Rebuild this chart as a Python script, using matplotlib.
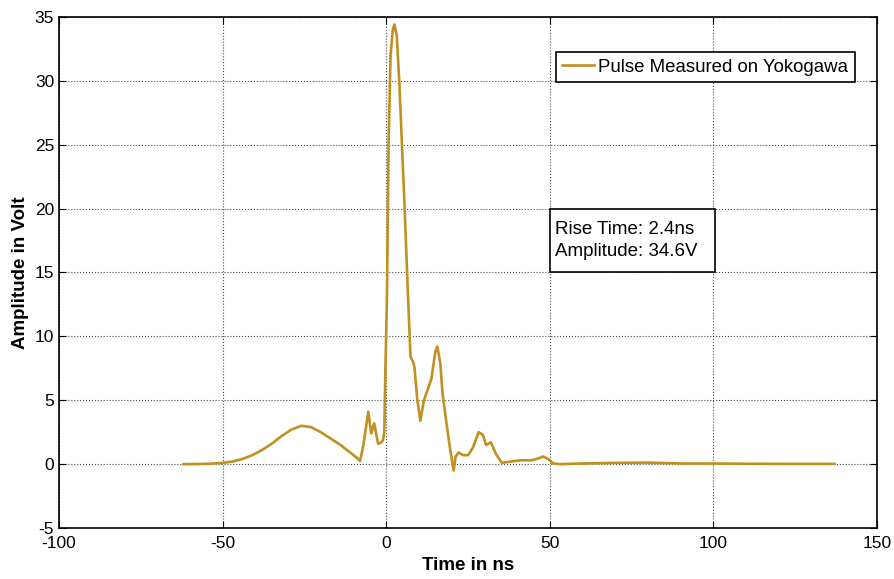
import matplotlib
matplotlib.use("Agg")
import matplotlib.pyplot as plt
from matplotlib.patches import Rectangle

plt.rcParams['font.family'] = ['Liberation Sans', 'DejaVu Sans']
plt.rcParams['axes.unicode_minus'] = False

# pulse (time in ns, amplitude in V)
t_ns = [-62, -58, -54, -50, -47, -44, -41, -38, -35, -32, -29, -26, -23,
        -20, -17, -14, -11, -9, -8,
        -7, -5.5, -4.6, -3.7, -2.5, -1.5, -1, -0.6, -0.3, 0.2, 0.7, 1.3,
        2.0, 2.5, 3.2, 4.0, 5.5, 6.7, 7.4, 8.2, 8.6, 9.5, 10.4, 11.5,
        12.9, 13.8, 15.0, 15.6, 16.5, 17.2, 18.4, 19.5, 20.6, 21.2, 22.1,
        23.5, 25.0, 26.5, 28.2, 29.5, 30.5, 32.0, 33.5, 35.3, 38, 41,
        44.5, 46.5, 48, 49.5, 51, 53, 60, 70, 80, 90, 100, 110, 120, 130, 137]
volts = [0.0, 0.01, 0.03, 0.1, 0.2, 0.4, 0.7, 1.1, 1.6, 2.2, 2.7, 3.0, 2.9,
         2.5, 2.0, 1.5, 0.9, 0.5, 0.25,
         1.5, 4.1, 2.4, 3.2, 1.6, 1.7, 1.9, 2.5, 7.0, 13.0, 25.0, 32.0,
         34.0, 34.4, 33.5, 29.8, 20.7, 12.8, 8.4, 8.0, 7.6, 5.0, 3.4, 5.0,
         6.0, 6.7, 8.8, 9.2, 7.9, 5.5, 3.2, 1.2, -0.5, 0.6, 0.9,
         0.7, 0.7, 1.3, 2.5, 2.3, 1.5, 1.7, 0.8, 0.1, 0.2, 0.3,
         0.3, 0.45, 0.6, 0.4, 0.05, 0.0, 0.05, 0.1, 0.12, 0.05, 0.05, 0.03, 0.02, 0.02, 0.02]

fig = plt.figure(figsize=(8.95, 5.79), dpi=100)
ax = fig.add_axes([0.066, 0.088, 0.914, 0.883])

ax.plot(t_ns, volts, color='#C09020', linewidth=1.9, label='Pulse Measured on Yokogawa')

ax.set_xlim(-100, 150)
ax.set_ylim(-5, 35)
ax.set_xticks([-100, -50, 0, 50, 100, 150])
ax.set_yticks(range(-5, 36, 5))
ax.grid(True, linestyle=':', color='black', linewidth=0.8, alpha=0.7)
ax.tick_params(direction='in', labelsize=12.5, top=True, right=True, length=5)
ax.tick_params(axis='x', pad=6)
for s in ax.spines.values():
    s.set_linewidth(1.2)

ax.set_xlabel('Time in ns', fontsize=13.5, fontweight='bold', labelpad=4)
ax.set_ylabel('Amplitude in Volt', fontsize=13.5, fontweight='bold', labelpad=4)

leg = ax.legend(loc='upper right', bbox_to_anchor=(0.973, 0.931), borderaxespad=0,
                fontsize=13.4, fancybox=False, framealpha=1, edgecolor='black',
                handlelength=1.7, handletextpad=0.25, borderpad=0.35)
leg.get_frame().set_linewidth(1.2)

# annotation box
ax.add_patch(Rectangle((50, 15), 50.5, 5, facecolor='white', edgecolor='black',
                       linewidth=1.2, zorder=4))
ax.text(51.5, 17.5, 'Rise Time: 2.4ns\nAmplitude: 34.6V', fontsize=13.5,
        va='center', ha='left', linespacing=1.45, zorder=5)

fig.savefig('out.png', dpi=100)
